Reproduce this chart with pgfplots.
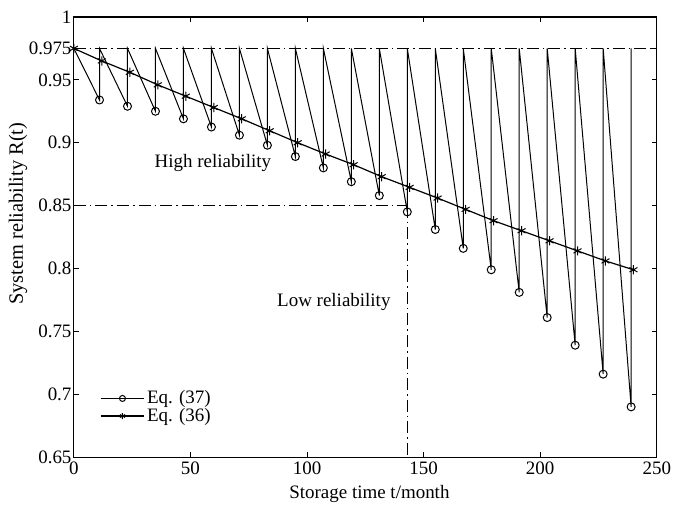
\documentclass[border=0pt]{standalone}
\usepackage{fontspec}
\setmainfont{Liberation Serif}
\usepackage{pgfplots}
\pgfplotsset{compat=1.18}

% 1 px of the reference = 0.5pt here
\begin{document}
\fontsize{9.5}{11}\selectfont
\begin{tikzpicture}
\begin{axis}[
  at={(0pt,0pt)}, anchor=south west,
  scale only axis,
  width=292pt, height=220.5pt,
  xmin=0, xmax=250,
  ymin=0.65, ymax=1,
  xtick={0,50,100,150,200,250},
  ytick={0.65,0.7,0.75,0.8,0.85,0.9,0.95,0.975,1},
  tick align=inside,
  major tick length=2.5pt,
  tick style={black, line width=0.5pt},
  axis line style={black, line width=0.6pt},
  /pgf/number format/assume math mode=true,
  scaled ticks=false,
  xticklabel style={inner sep=2pt},
  yticklabel style={inner sep=1pt, /pgf/number format/fixed, /pgf/number format/precision=3},
  xlabel={Storage time t/month},
  ylabel={System reliability R(t)},
  xlabel style={at={(axis description cs:0.507,0)}, anchor=center, yshift=-18.5pt},
  ylabel style={at={(axis description cs:-0.096,0.553)}, anchor=center,
    font=\fontsize{10.2}{12}\selectfont},
  legend style={at={(axis description cs:0.044,0.157)}, anchor=north west,
    draw=none, fill=none, inner sep=0pt, row sep=-1.2pt,
    nodes={inner sep=1pt, font=\fontsize{9.5}{11}\selectfont}},
  legend cell align=left,
  legend image code/.code={
    \draw[#1, mark=none] (0pt,0pt) -- (22pt,0pt);
    \draw[#1, mark indices={1}, mark size=1.5pt] plot coordinates {(11pt,0pt)};
  },
]
% threshold lines
\addplot[black, line width=0.45pt, dash pattern=on 6pt off 2pt on 0.8pt off 2pt, forget plot]
  coordinates {(0,0.975) (250,0.975)};
\addplot[black, line width=0.45pt, dash pattern=on 6pt off 2pt on 0.8pt off 2pt, forget plot]
  coordinates {(0,0.85) (143,0.85)};
\addplot[black, line width=0.45pt, dash pattern=on 6pt off 2pt on 0.8pt off 2pt, forget plot]
  coordinates {(143,0.85) (143,0.65)};

% Eq. (37): sawtooth with circles at the lower points
\addplot[black, line width=0.5pt, mark=o, mark size=2pt,
  mark options={solid, line width=0.5pt},
  mark indices={2,4,6,8,10,12,14,16,18,20,22,24,26,28,30,32,34,36,38,40}]
  coordinates {
  (0,0.975) (11,0.934) (11,0.975) (23,0.929) (23,0.975) (35,0.925) (35,0.975)
  (47,0.919) (47,0.975) (59,0.9125) (59,0.975) (71,0.906) (71,0.975)
  (83,0.898) (83,0.975) (95,0.889) (95,0.975) (107,0.880) (107,0.975)
  (119,0.869) (119,0.975) (131,0.858) (131,0.975) (143,0.845) (143,0.975)
  (155,0.831) (155,0.975) (167,0.816) (167,0.975) (179,0.799) (179,0.975)
  (191,0.781) (191,0.975) (203,0.761) (203,0.975) (215,0.739) (215,0.975)
  (227,0.716) (227,0.975) (239,0.690) (239,0.975)
  };
\addlegendentry{Eq. (37)}

% Eq. (36)
\addplot[black, line width=0.6pt, mark=asterisk, mark size=2.3pt,
  mark options={solid, line width=0.5pt}]
  coordinates {
  (0,0.975) (12,0.965) (24,0.956) (36,0.946) (48,0.937) (60,0.928)
  (72,0.919) (84,0.9095) (96,0.900) (108,0.891) (120,0.8825) (132,0.873)
  (144,0.8645) (156,0.856) (168,0.847) (180,0.838) (192,0.830) (204,0.822)
  (216,0.814) (228,0.806) (240,0.799)
  };
\addlegendentry{Eq. (36)}

\node at (axis cs:59.6,0.884) {High reliability};
\node at (axis cs:111.5,0.773) {Low reliability};
\end{axis}
\path (-37pt,-24pt) rectangle (300.5pt,229pt);
\end{tikzpicture}
\end{document}
